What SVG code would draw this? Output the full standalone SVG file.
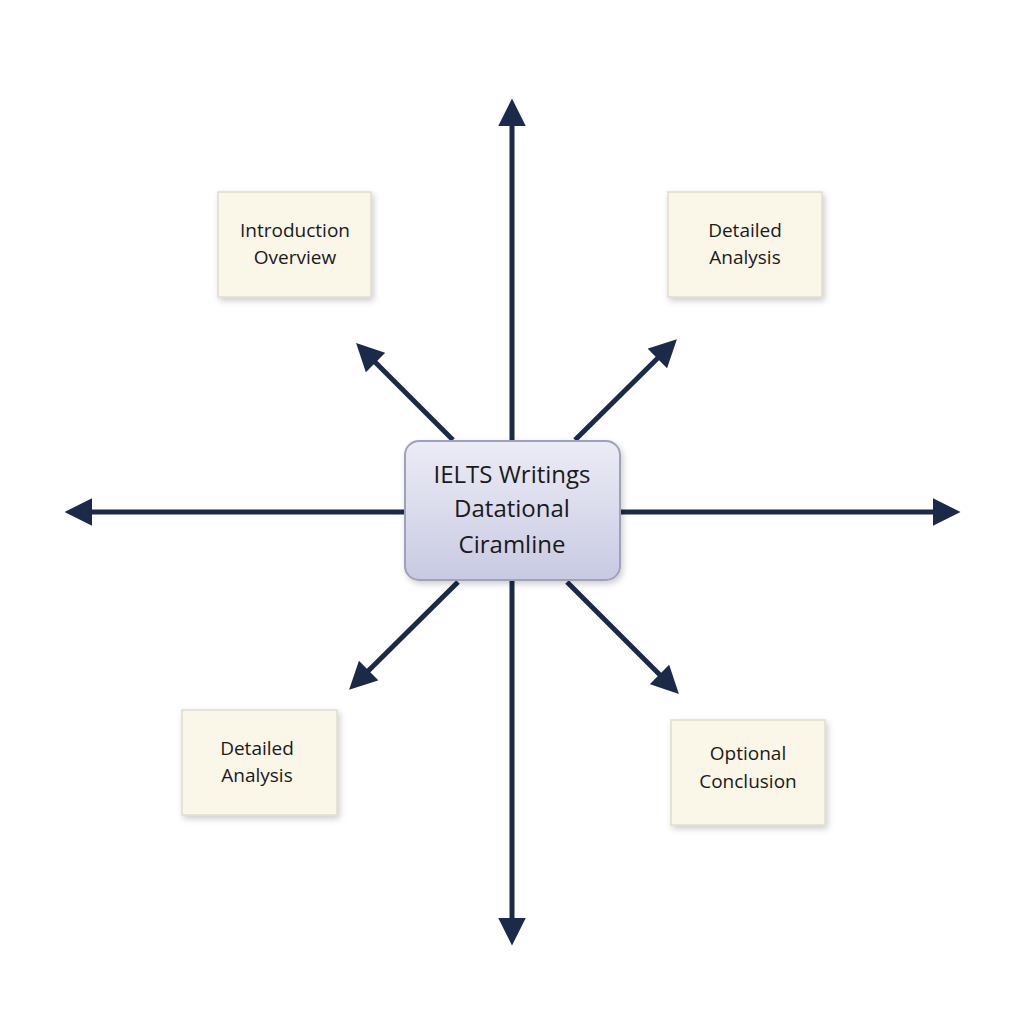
<svg xmlns="http://www.w3.org/2000/svg" width="1024" height="1024" viewBox="0 0 1024 1024">
<style>
.box{fill:#faf6e8;stroke:#e2dccb;stroke-width:1.5;filter:url(#sh)}
.t{font-family:"Open Sans","Liberation Sans",sans-serif;font-size:19px;fill:#1a1a1a;text-anchor:middle}
.c{font-family:"Open Sans","Liberation Sans",sans-serif;font-size:24px;fill:#1a1a1a;text-anchor:middle}
.ln{stroke:#1a2a48;stroke-width:5;fill:none;marker-end:url(#ah)}
</style>
<defs>
<marker id="ah" viewBox="0 0 10 10" refX="8" refY="5" markerWidth="5.5" markerHeight="5.5" orient="auto" markerUnits="strokeWidth"><path d="M0,0 L10,5 L0,10 z" fill="#1a2a48"/></marker>
<linearGradient id="cg" x1="0" y1="0" x2="0" y2="1"><stop offset="0" stop-color="#ececf6"/><stop offset="1" stop-color="#c8cae2"/></linearGradient>
<filter id="sh" x="-20%" y="-20%" width="140%" height="140%"><feDropShadow dx="2" dy="3" stdDeviation="3" flood-color="#000" flood-opacity="0.2"/></filter>
</defs>
<rect width="1024" height="1024" fill="#ffffff"/>
<g id="connectors">
<line class="ln" x1="512" y1="441" x2="512" y2="104"/>
<line class="ln" x1="512" y1="580" x2="512" y2="940"/>
<line class="ln" x1="405" y1="512" x2="70" y2="512"/>
<line class="ln" x1="620" y1="512" x2="955" y2="512"/>
<line class="ln" x1="453" y1="440" x2="360" y2="347"/>
<line class="ln" x1="575" y1="440" x2="673" y2="343"/>
<line class="ln" x1="458" y1="582" x2="353" y2="686"/>
<line class="ln" x1="567" y1="582" x2="675" y2="690"/>
</g>
<g id="center">
<rect x="405" y="441" width="215" height="139" rx="14" fill="url(#cg)" stroke="#9ea2b8" stroke-width="2" filter="url(#sh)"/>
<text class="c" x="512" y="483">IELTS Writings</text>
<text class="c" x="512" y="517">Datational</text>
<text class="c" x="512" y="553">Ciramline</text>
</g>
<g id="intro"><rect class="box" x="218" y="192" width="153" height="105"/>
<text class="t" x="295" y="237">Introduction</text><text class="t" x="295" y="264">Overview</text></g>
<g id="analysis1"><rect class="box" x="668" y="192" width="154" height="105"/>
<text class="t" x="745" y="237">Detailed</text><text class="t" x="745" y="264">Analysis</text></g>
<g id="analysis2"><rect class="box" x="182" y="710" width="155" height="105"/>
<text class="t" x="257" y="755">Detailed</text><text class="t" x="257" y="782">Analysis</text></g>
<g id="conclusion"><rect class="box" x="671" y="720" width="154" height="105"/>
<text class="t" x="748" y="760">Optional</text><text class="t" x="748" y="788">Conclusion</text></g>
</svg>
